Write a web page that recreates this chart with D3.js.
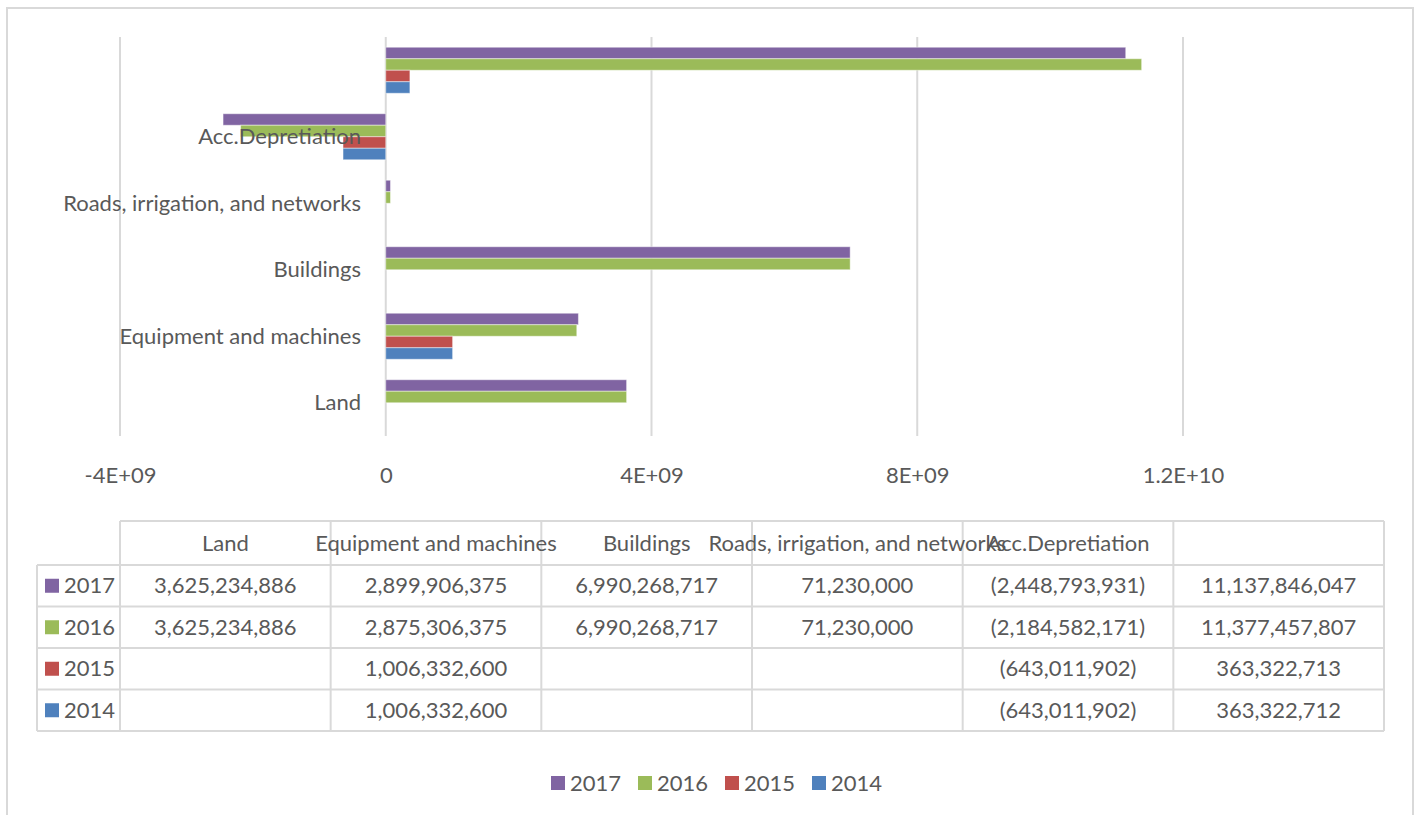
<!DOCTYPE html>
<html>
<head>
<meta charset="utf-8">
<script src="https://cdn.jsdelivr.net/npm/d3@7"></script>
<style>
  html, body { margin: 0; padding: 0; background: #fff; }
  svg { display: block; font-family: Lato, "Open Sans", sans-serif; }
</style>
</head>
<body>
<svg id="chart" width="1415" height="815"></svg>
<script>
// Fixed asset balances by year
const categories = ["Land", "Equipment and machines", "Buildings", "Roads, irrigation, and networks", "Acc.Depretiation", ""];
const years = ["2017", "2016", "2015", "2014"];
const values2017 = [3625234886, 2899906375, 6990268717, 71230000, -2448793931, 11137846047];
const values2016 = [3625234886, 2875306375, 6990268717, 71230000, -2184582171, 11377457807];
const values2015 = [null, 1006332600, null, null, -643011902, 363322713];
const values2014 = [null, 1006332600, null, null, -643011902, 363322712];
const tickValues = [-4e9, 0, 4e9, 8e9, 1.2e10];
const tickLabels = ["-4E+09", "0", "4E+09", "8E+09", "1.2E+10"];
const colors = { "2017": "#8064A2", "2016": "#9BBB59", "2015": "#C0504D", "2014": "#4F81BD" };

const seriesValues = { "2017": values2017, "2016": values2016, "2015": values2015, "2014": values2014 };
const series = years.map(y => ({
  year: y,
  points: categories.map((c, i) => ({ cat: c, value: seriesValues[y][i] }))
}));

const svg = d3.select("#chart");
const textColor = "#595959";
const gridColor = "#d9d9d9";
const fontSize = 22;

// Chart frame
svg.append("rect")
  .attr("x", 7).attr("y", 8).attr("width", 1406).attr("height", 830)
  .attr("fill", "#fff").attr("stroke", gridColor).attr("stroke-width", 2);

// Scales
const plotTop = 37, plotBottom = 436;
const x = d3.scaleLinear().domain([-4e9, 1.2e10]).range([120, 1183]);
const y = d3.scaleBand()
  .domain(categories.slice().reverse())
  .range([plotTop, plotBottom])
  .paddingInner(0.308).paddingOuter(0.154);
const ySub = d3.scaleBand().domain(years).range([0, y.bandwidth()]);

// Vertical gridlines
svg.append("g").selectAll("line")
  .data(tickValues).join("line")
  .attr("x1", d => x(d)).attr("x2", d => x(d))
  .attr("y1", plotTop).attr("y2", plotBottom)
  .attr("stroke", gridColor).attr("stroke-width", 2);

// Bars
const groups = svg.append("g").selectAll("g")
  .data(series).join("g")
  .attr("fill", d => colors[d.year]);
groups.selectAll("rect")
  .data(d => d.points.filter(p => p.value !== null).map(p => ({ ...p, year: d.year })))
  .join("rect")
  .attr("x", d => x(Math.min(0, d.value)))
  .attr("width", d => Math.abs(x(d.value) - x(0)))
  .attr("y", d => y(d.cat) + ySub(d.year))
  .attr("height", ySub.bandwidth())
  .attr("stroke", "rgba(255,255,255,0.45)").attr("stroke-width", 1);

// Category labels
svg.append("g").selectAll("text")
  .data(categories).join("text")
  .attr("x", 361)
  .attr("y", d => y(d) + y.bandwidth() / 2)
  .attr("dy", "0.35em")
  .attr("text-anchor", "end")
  .attr("font-size", fontSize)
  .attr("fill", textColor)
  .text(d => d);

// Value axis labels
const xAxis = d3.axisBottom(x)
  .tickValues(tickValues)
  .tickFormat((d, i) => tickLabels[i])
  .tickSize(0).tickPadding(0);
const axisG = svg.append("g").attr("transform", "translate(0,467)").call(xAxis);
axisG.select(".domain").remove();
axisG.selectAll("text")
  .attr("font-size", fontSize).attr("fill", textColor)
  .attr("font-family", "Lato, 'Open Sans', sans-serif");

// Data table
const tableLeft = 37, headLeft = 120, tableRight = 1384;
const headerTop = 521, headerBottom = 565;
const rowScale = d3.scaleBand().domain(years).range([headerBottom, 731]);
const colScale = d3.scaleBand().domain(categories.map((c, i) => i)).range([headLeft, tableRight]);
const table = svg.append("g");
const lineStyle = sel => sel.attr("stroke", gridColor).attr("stroke-width", 2);

// horizontal rules
table.append("line").attr("x1", headLeft).attr("x2", tableRight).attr("y1", headerTop).attr("y2", headerTop).call(lineStyle);
table.selectAll(".hrow").data(years).join("line")
  .attr("x1", tableLeft).attr("x2", tableRight)
  .attr("y1", d => rowScale(d)).attr("y2", d => rowScale(d)).call(lineStyle);
table.append("line").attr("x1", tableLeft).attr("x2", tableRight).attr("y1", 731).attr("y2", 731).call(lineStyle);
// vertical rules
table.append("line").attr("x1", tableLeft).attr("x2", tableLeft).attr("y1", headerBottom).attr("y2", 731).call(lineStyle);
table.selectAll(".vcol").data(categories.map((c, i) => i)).join("line")
  .attr("x1", d => colScale(d)).attr("x2", d => colScale(d))
  .attr("y1", headerTop).attr("y2", 731).call(lineStyle);
table.append("line").attr("x1", tableRight).attr("x2", tableRight).attr("y1", headerTop).attr("y2", 731).call(lineStyle);

// header text
table.selectAll(".head").data(categories).join("text")
  .attr("x", (d, i) => colScale(i) + colScale.bandwidth() / 2)
  .attr("y", (headerTop + headerBottom) / 2)
  .attr("dy", "0.35em")
  .attr("text-anchor", "middle")
  .attr("font-size", fontSize).attr("fill", textColor)
  .text(d => d);

// row headers with keys
const rowHead = table.selectAll(".rowhead").data(years).join("g")
  .attr("transform", d => `translate(0,${rowScale(d) + rowScale.bandwidth() / 2})`);
rowHead.append("rect").attr("x", 45).attr("y", -7).attr("width", 14).attr("height", 14)
  .attr("fill", d => colors[d]);
rowHead.append("text").attr("x", 64).attr("dy", "0.35em")
  .attr("font-size", fontSize).attr("fill", textColor).text(d => d);

// cell values
const fmt = d3.format(",");
const cellText = v => v === null ? "" : (v < 0 ? `(${fmt(-v)})` : fmt(v));
series.forEach(s => {
  table.append("g").selectAll("text").data(s.points).join("text")
    .attr("x", (d, i) => colScale(i) + colScale.bandwidth() / 2)
    .attr("y", rowScale(s.year) + rowScale.bandwidth() / 2)
    .attr("dy", "0.35em")
    .attr("text-anchor", "middle")
    .attr("font-size", fontSize).attr("fill", textColor)
    .text(d => cellText(d.value));
});

// Legend
const legendX = d3.scalePoint().domain(years).range([551, 812]);
const legend = svg.append("g").selectAll("g").data(years).join("g")
  .attr("transform", d => `translate(${legendX(d)},783)`);
legend.append("rect").attr("x", 0).attr("y", -7).attr("width", 14).attr("height", 14)
  .attr("fill", d => colors[d]);
legend.append("text").attr("x", 19).attr("dy", "0.35em")
  .attr("font-size", fontSize).attr("fill", textColor).text(d => d);
</script>
</body>
</html>
